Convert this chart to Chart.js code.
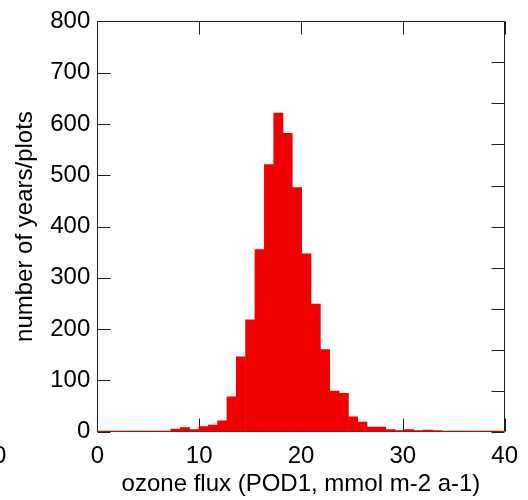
<!DOCTYPE html>
<html><head><meta charset="utf-8">
<script src="https://cdn.jsdelivr.net/npm/chart.js@4/dist/chart.umd.min.js"></script>
<style>html,body{margin:0;padding:0;background:#fff}</style>
</head><body>
<canvas id="c" width="528" height="500"></canvas>
<script>
// bin centres (ozone flux, POD1)
const binCenters = [0.34, 1.26, 2.18, 3.09, 4.01, 4.93, 5.85, 6.76, 7.68, 8.60,
  9.52, 10.43, 11.35, 12.27, 13.19, 14.10, 15.02, 15.94, 16.86, 17.78,
  18.69, 19.61, 20.53, 21.45, 22.36, 23.28, 24.20, 25.12, 26.03, 26.95,
  27.87, 28.79, 29.70, 30.62, 31.54, 32.46, 33.38, 34.29, 35.21, 36.13,
  37.05, 37.96, 38.88, 39.80];
// number of years/plots per bin
const counts = [1, 1, 1, 1, 1, 1, 1, 1, 5, 8,
  4, 10, 13, 21, 68, 146, 218, 355, 521, 621,
  582, 476, 347, 249, 160, 79, 75, 29, 19, 9,
  9, 4, 2, 4, 2, 3, 2, 1, 1, 1,
  1, 1, 1, 1];
const xTickValues = [0, 10, 20, 30, 40];
const yTickValues = [0, 100, 200, 300, 400, 500, 600, 700, 800];
const rightTickValues = [0, 0.1, 0.2, 0.3, 0.4, 0.5, 0.6, 0.7, 0.8, 0.9, 1];
const xTitle = 'ozone flux (POD1, mmol m-2 a-1)';
const yTitle = 'number of years/plots';

const FONT = {family: '"Liberation Sans", Arial, sans-serif', size: 24};

const frame = {
  id: 'frame',
  beforeDatasetsDraw(chart) {
    const {ctx, chartArea: a, scales} = chart;
    const L = Math.round(a.left) + 0.5, R = Math.round(a.right) - 0.5;
    const T = Math.round(a.top) + 0.5, B = Math.round(a.bottom) - 0.5;
    ctx.save();
    ctx.strokeStyle = '#1e1e1e';
    ctx.lineWidth = 1;
    ctx.beginPath();
    ctx.rect(L, T, R - L, B - T);
    const tl = 13;
    yTickValues.forEach(v => {
      const p = Math.round(scales.y.getPixelForValue(v)) + 0.5;
      ctx.moveTo(L, p); ctx.lineTo(L + tl, p);
    });
    xTickValues.forEach(v => {
      const p = Math.round(scales.x.getPixelForValue(v)) + 0.5;
      ctx.moveTo(p, T); ctx.lineTo(p, T + tl);
      ctx.moveTo(p, B); ctx.lineTo(p, B - tl);
    });
    rightTickValues.forEach(v => {
      const p = Math.round(scales.y2.getPixelForValue(v)) + 0.5;
      ctx.moveTo(R, p); ctx.lineTo(R - tl, p);
    });
    ctx.stroke();
    ctx.restore();
  },
  afterDraw(chart) {
    // fragment of a neighbouring panel's tick label, cut by the left edge
    const {ctx} = chart;
    ctx.save();
    ctx.font = '24px "Liberation Sans", Arial, sans-serif';
    ctx.fillStyle = '#000';
    ctx.textAlign = 'center';
    ctx.textBaseline = 'middle';
    ctx.fillText('40', -7, 456);
    ctx.restore();
  }
};

new Chart(document.getElementById('c'), {
  type: 'bar',
  data: {
    datasets: [{
      data: binCenters.map((x, i) => ({x: x, y: counts[i]})),
      backgroundColor: 'rgb(240,0,0)',
      borderWidth: 0,
      barPercentage: 1,
      categoryPercentage: 1
    }]
  },
  options: {
    responsive: false,
    animation: false,
    devicePixelRatio: 1,
    layout: {padding: {top: 17.3, left: 0, right: 0, bottom: 0}},
    plugins: {legend: {display: false}, tooltip: {enabled: false}},
    scales: {
      x: {
        type: 'linear', min: 0, max: 40, offset: false,
        afterBuildTicks: s => { s.ticks = xTickValues.map(v => ({value: v})); },
        ticks: {font: FONT, color: '#000', padding: 10, maxRotation: 0, autoSkip: false},
        grid: {display: false, drawTicks: false},
        border: {display: false},
        title: {display: true, text: xTitle, font: FONT, color: '#000', padding: {top: 0, bottom: 1}},
        afterFit: s => { s.height = 68.3; }
      },
      y: {
        min: 0, max: 800,
        afterBuildTicks: s => { s.ticks = yTickValues.map(v => ({value: v})); },
        ticks: {font: FONT, color: '#000', padding: 7},
        grid: {display: false, drawTicks: false},
        border: {display: false},
        title: {display: true, text: yTitle, font: FONT, color: '#000', padding: {top: 11, bottom: 0}},
        afterFit: s => { s.width = 97.3; }
      },
      y2: {
        position: 'right', min: 0, max: 1,
        afterBuildTicks: s => { s.ticks = rightTickValues.map(v => ({value: v})); },
        ticks: {display: false},
        grid: {display: false, drawTicks: false},
        border: {display: false},
        afterFit: s => { s.width = 15.3; }
      }
    }
  },
  plugins: [frame]
});
</script>
</body></html>
